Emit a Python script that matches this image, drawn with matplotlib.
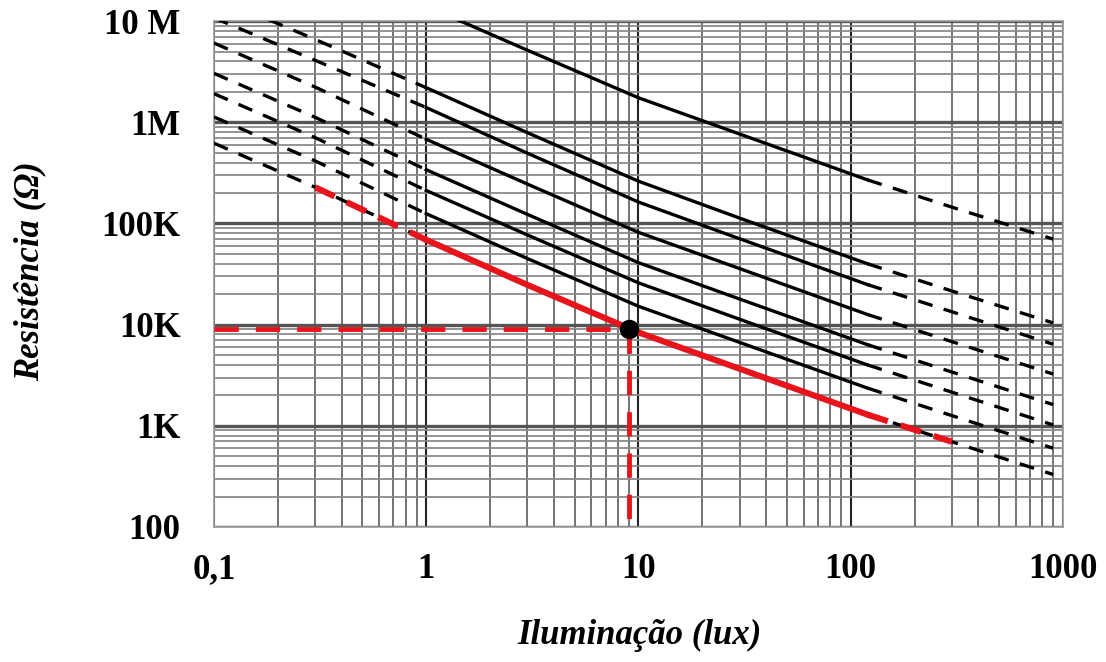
import matplotlib
matplotlib.use("Agg")
import matplotlib.pyplot as plt
from matplotlib.ticker import FixedLocator, LogLocator, NullFormatter

lux = [0.1, 0.3, 1, 3, 10, 30, 120, 300, 900]

# resistance curves (ohm), top to bottom
curve_1 = [130e6, 47.6e6, 14.1e6, 5.16e6, 1.75e6, 766e3, 270e3, 145e3, 70.0e3]
curve_2 = [17.5e6, 6.6e6, 2.2e6, 790e3, 262e3, 113e3, 40.0e3, 21.5e3, 10.4e3]
curve_3 = [10.8e6, 4.1e6, 1.4e6, 495e3, 163e3, 70.6e3, 24.9e3, 13.4e3, 6.4e3]
curve_4 = [6.08e6, 2.23e6, 680e3, 245e3, 81.8e3, 35.8e3, 12.6e3, 6.79e3, 3.25e3]
curve_5 = [3.05e6, 1.12e6, 340e3, 123e3, 41.0e3, 17.9e3, 6.34e3, 3.40e3, 1.62e3]
curve_6 = [1.92e6, 705e3, 212e3, 77e3, 25.9e3, 11.3e3, 4.0e3, 2.15e3, 1.02e3]
curve_7 = [1.13e6, 415e3, 125e3, 45.0e3, 15.2e3, 6.67e3, 2.36e3, 1.26e3, 600]
curve_8 = [622e3, 228e3, 69e3, 24.7e3, 8.38e3, 3.66e3, 1.29e3, 695, 330]

# highlighted operating point
point_lux = 9
point_ohm = 9000

x_ticks = [0.1, 1, 10, 100, 1000]
x_labels = ["0,1", "1", "10", "100", "1000"]
y_ticks = [1e2, 1e3, 1e4, 1e5, 1e6, 1e7]
y_labels = ["100", "1K", "10K", "100K", "1M", "10 M"]


def main():
    fig = plt.figure(figsize=(11.06, 6.62), dpi=100)
    ax = fig.add_axes([0.1935, 0.204, 0.7675, 0.764])
    ax.set_xscale("log")
    ax.set_yscale("log")
    ax.set_xlim(0.1, 1000)
    ax.set_ylim(100, 1e7)

    # grid like the scanned datasheet
    ax.xaxis.set_minor_locator(LogLocator(base=10, subs=range(2, 10)))
    ax.yaxis.set_minor_locator(LogLocator(base=10, subs=range(2, 10)))
    ax.xaxis.set_minor_formatter(NullFormatter())
    ax.yaxis.set_minor_formatter(NullFormatter())
    ax.grid(True, which="major", axis="x", color="#222222", lw=1.5, zorder=0)
    ax.grid(True, which="minor", axis="x", color="#333333", lw=1.2, alpha=0.8, zorder=0)
    ax.grid(True, which="major", axis="y", color="#555555", lw=2.4, zorder=0)
    ax.grid(True, which="minor", axis="y", color="#888888", lw=1.4, alpha=0.9, zorder=0)
    ax.set_axisbelow(True)

    dash = (0, (4.5, 3.5))
    for c in [curve_1, curve_2, curve_3, curve_4, curve_5, curve_6, curve_7, curve_8]:
        ax.plot(lux[:3], c[:3], color="black", lw=2.4, ls=dash, zorder=3)
        ax.plot(lux[2:7], c[2:7], color="black", lw=2.4, zorder=3)
        ax.plot(lux[6:], c[6:], color="black", lw=2.4, ls=dash, zorder=3)

    # red highlighted curve
    red = "#e8141b"
    ax.plot(lux[1:3], curve_8[1:3], color=red, lw=4.4, ls=(0, (3.5, 2.2)), zorder=4)
    ax.plot(lux[2:7], curve_8[2:7], color=red, lw=4.4, zorder=4)
    ax.plot(lux[6:8], curve_8[6:8], color=red, lw=4.4, ls=(0, (3.5, 2.2)), zorder=4)

    # guide lines to the operating point
    ax.plot([0.1, point_lux], [point_ohm, point_ohm], color=red, lw=3.5,
            ls=(0, (5, 3.5)), zorder=4)
    ax.plot([point_lux, point_lux], [point_ohm, 100], color=red, lw=3.5,
            ls=(0, (5, 3.5)), zorder=4)
    ax.plot([point_lux], [point_ohm], "o", color="black", ms=13, zorder=5)

    ax.xaxis.set_major_locator(FixedLocator(x_ticks))
    ax.set_xticklabels(x_labels)
    ax.yaxis.set_major_locator(FixedLocator(y_ticks))
    ax.set_yticklabels(y_labels)
    ax.tick_params(which="both", length=0)
    ax.tick_params(axis="x", pad=19)
    ax.tick_params(axis="y", pad=24)
    for lab in ax.get_xticklabels() + ax.get_yticklabels():
        lab.set_fontfamily("Liberation Serif")
        lab.set_fontweight("bold")
        lab.set_fontsize(25)

    for s in ax.spines.values():
        s.set_color("#999999")
        s.set_linewidth(1.2)

    fig.text(0.578, 0.04, "Iluminação (lux)", ha="center", va="center",
             fontfamily="Liberation Serif", fontweight="bold", fontstyle="italic",
             fontsize=25)
    fig.text(0.027, 0.59, "Resistência (Ω)", ha="center", va="center",
             rotation=90, fontfamily="Liberation Serif", fontweight="bold",
             fontstyle="italic", fontsize=25)

    fig.savefig("out.png", dpi=100)


if __name__ == "__main__":
    main()
